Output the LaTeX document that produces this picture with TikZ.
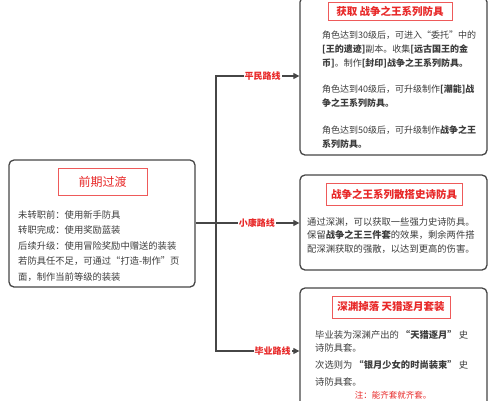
\documentclass[tikz,border=0pt]{standalone}
\usepackage{fontspec}
\setmainfont{Noto Sans CJK SC}
\usetikzlibrary{arrows.meta}
\definecolor{tred}{RGB}{232,40,40}
\definecolor{tborder}{RGB}{238,90,90}
\definecolor{bgray}{RGB}{70,70,70}
\definecolor{txt}{RGB}{60,60,60}
\tikzset{
  panel/.style={draw=bgray,line width=1.3pt,rounded corners=5pt,fill=white,inner sep=0pt},
  titlebox/.style={draw=tborder,line width=0.9pt,fill=white,inner sep=0pt,text=tred,font=\fontsize{10.5}{12}\selectfont\bfseries},
  body/.style={anchor=north west,inner sep=0pt,align=left,text=txt},
  route/.style={fill=white,inner sep=1pt,text=tred,font=\fontsize{9}{10}\selectfont\bfseries},
  conn/.style={draw=bgray,line width=1.2pt},
  arr/.style={conn,-{Triangle[length=6pt,width=6pt]}}
}
\begin{document}
\begin{tikzpicture}[x=1pt,y=-1pt]
\useasboundingbox (0,0) rectangle (500,400);
% left panel
\node[panel,minimum width=186pt,minimum height=127pt] (L) at (102,223.5) {};
\node[titlebox,minimum width=89pt,minimum height=27pt,font=\fontsize{12}{14}\selectfont] (Lt) at (102.5,181.5) {前期过渡};
\node[body,font=\fontsize{9.3}{15.5}\selectfont] (Lb) at (18,210.3) {未转职前：使用新手防具\\转职完成：使用奖励蓝装\\后续升级：使用冒险奖励中赠送的装装\\若防具任不足，可通过“打造-制作”页\\面，制作当前等级的装装};
% right panels
\node[panel,minimum width=187pt,minimum height=158pt] (B1) at (393.5,76) {};
\node[panel,minimum width=187pt,minimum height=95pt] (B2) at (393.5,222.5) {};
\node[panel,minimum width=187pt,minimum height=126pt] (B3) at (393.5,351) {};
% titles
\node[titlebox,minimum width=124pt,minimum height=18pt] (T1) at (390,11) {获取 战争之王系列防具};
\node[titlebox,minimum width=136pt,minimum height=22pt] (T2) at (394,194) {战争之王系列散搭史诗防具};
\node[titlebox,minimum width=118pt,minimum height=22pt] (T3) at (391,307) {深渊掉落 天猎逐月套装};
% body texts
\node[body,font=\fontsize{9}{14}\selectfont] (X1) at (322,30.3) {角色达到30级后，可进入“委托”中的\\\textbf{[王的遗迹]}副本。收集\textbf{[远古国王的金}\\\textbf{币]}。制作\textbf{[封印]战争之王系列防具。}\\[12pt]角色达到40级后，可升级制作\textbf{[潮能]战}\\\textbf{争之王系列防具。}\\[13pt]角色达到50级后，可升级制作\textbf{战争之王}\\\textbf{系列防具。}};
\node[body,font=\fontsize{9.3}{13.5}\selectfont] (X2) at (307,217.3) {通过深渊，可以获取一些强力史诗防具。\\保留\textbf{战争之王三件套}的效果，剩余两件搭\\配深渊获取的强散，以达到更高的伤害。};
\node[body,font=\fontsize{9.3}{13}\selectfont] (X3) at (315,330.3) {毕业装为深渊产出的 \textbf{“天猎逐月”} 史\\诗防具套。\\[4pt]次选则为 \textbf{“银月少女的时尚装束”} 史\\[4pt]诗防具套。};
\node[inner sep=0pt,text=tred,font=\fontsize{8.5}{10}\selectfont] (N3) at (393,395) {注：能齐套就齐套。};
% connectors
\coordinate (J) at (216,223);
\draw[conn] (L.east |- J) -- (J);
\draw[arr] (J) |- (B1.west) node[route,pos=0.78] (R1) {平民路线};
\draw[arr] (J) -- (B2.west |- J) node[route,pos=0.49] (R2) {小康路线};
\draw[arr] (J) |- (B3.west) node[route,pos=0.84] (R3) {毕业路线};
\end{tikzpicture}
\end{document}
